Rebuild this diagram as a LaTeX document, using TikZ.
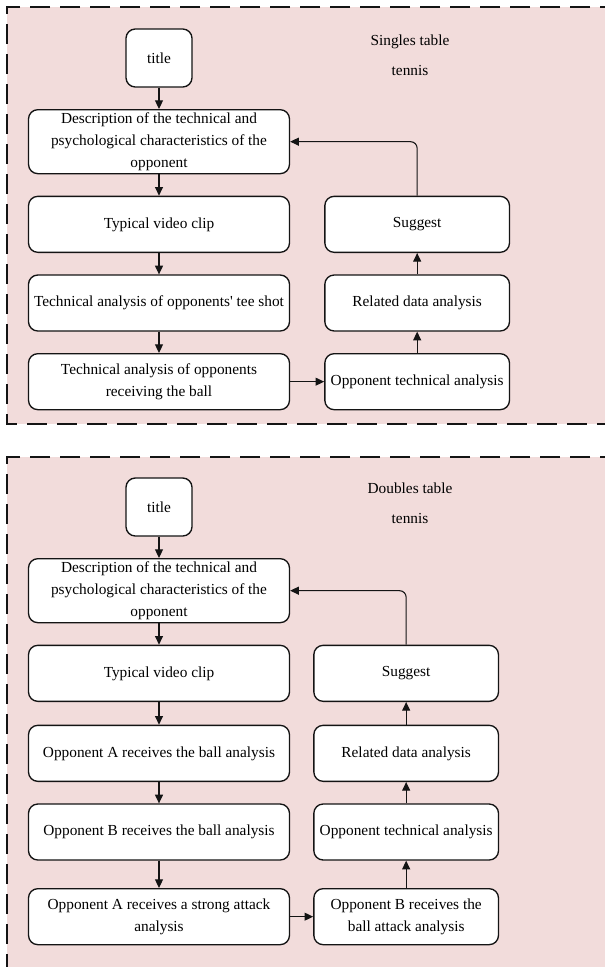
\documentclass[tikz,border=0pt]{standalone}
\usepackage{fontspec}
\setmainfont{Liberation Serif}
\usepackage{tikz}
\usetikzlibrary{arrows.meta,positioning}
\definecolor{ttedge}{RGB}{20,20,20}
\definecolor{ttpanel}{RGB}{242,220,219}
\definecolor{ttbox}{RGB}{255,255,255}
\tikzset{
  ttbox/.style={
    draw=ttedge, fill=ttbox, line width=1pt, rounded corners=7pt,
    align=center, inner xsep=2pt, inner ysep=2pt,
    font=\fontsize{11.5}{16.3}\selectfont, minimum height=42pt
  },
  lbox/.style={ttbox, minimum width=195.75pt},
  rbox/.style={ttbox, minimum width=138.5pt},
  titlebox/.style={ttbox, minimum width=49.5pt, minimum height=43.5pt},
  descbox/.style={lbox, minimum height=48pt},
  arr/.style={-{Triangle[length=6.5pt,width=6pt]}, draw=ttedge, line width=0.8pt},
  panel/.style={draw=ttedge, line width=1pt, dash pattern=on 15pt off 7.5pt},
  anno/.style={align=center, font=\fontsize{11.5}{22.5}\selectfont}
}
\begin{document}
\begin{tikzpicture}[x=0.75pt, y=-0.75pt, node distance=16pt and 25.5pt]
  \useasboundingbox (0,0) rectangle (605,967);
  \clip (0,0) rectangle (605,967);

  % panels
  \fill[ttpanel] (7,7) rectangle (620,424);
  \draw[panel] (620,7) -- (7,7) -- (7,424) -- (620,424);
  \fill[ttpanel] (7,457) rectangle (620,990);
  \draw[panel] (620,457) -- (7,457) -- (7,990);

  % singles
  \node[titlebox] (tit1) at (159,58) {title};
  \node[descbox, below=of tit1] (desc1) {Description of the technical and\\psychological characteristics of the\\opponent};
  \node[lbox, below=of desc1] (vid1) {Typical video clip};
  \node[lbox, below=of vid1] (tee1) {Technical analysis of opponents\textquotesingle{} tee shot};
  \node[lbox, below=of tee1] (recv1) {Technical analysis of opponents\\receiving the ball};
  \node[rbox, right=of vid1] (sug1) {Suggest};
  \node[rbox, right=of tee1] (rel1) {Related data analysis};
  \node[rbox, right=of recv1] (opt1) {Opponent technical analysis};
  \node[anno] (lab1) at (410,55) {Singles table\\tennis};

  \draw[arr] (tit1.south) -- (desc1.north);
  \draw[arr] (desc1.south) -- (vid1.north);
  \draw[arr] (vid1.south) -- (tee1.north);
  \draw[arr] (tee1.south) -- (recv1.north);
  \draw[arr] (recv1.east) -- (opt1.west);
  \draw[arr] (opt1.north) -- (rel1.south);
  \draw[arr] (rel1.north) -- (sug1.south);
  \draw[arr, rounded corners=5pt] (sug1.north) |- (desc1.east);

  % doubles
  \node[titlebox] (tit2) at (159,507) {title};
  \node[descbox, below=of tit2] (desc2) {Description of the technical and\\psychological characteristics of the\\opponent};
  \node[lbox, below=of desc2] (vid2) {Typical video clip};
  \node[lbox, below=17pt of vid2] (opa2) {Opponent A receives the ball analysis};
  \node[lbox, below=16pt of opa2] (opb2) {Opponent B receives the ball analysis};
  \node[lbox, below=20.5pt of opb2] (str2) {Opponent A receives a strong attack\\analysis};
  \node[rbox, right=17.25pt of vid2] (sug2) {Suggest};
  \node[rbox, right=17.25pt of opa2] (rel2) {Related data analysis};
  \node[rbox, right=17.25pt of opb2] (opt2) {Opponent technical analysis};
  \node[rbox, right=17.25pt of str2] (att2) {Opponent B receives the\\ball attack analysis};
  \node[anno] (lab2) at (410,503) {Doubles table\\tennis};

  \draw[arr] (tit2.south) -- (desc2.north);
  \draw[arr] (desc2.south) -- (vid2.north);
  \draw[arr] (vid2.south) -- (opa2.north);
  \draw[arr] (opa2.south) -- (opb2.north);
  \draw[arr] (opb2.south) -- (str2.north);
  \draw[arr] (str2.east) -- (att2.west);
  \draw[arr] (att2.north) -- (opt2.south);
  \draw[arr] (opt2.north) -- (rel2.south);
  \draw[arr] (rel2.north) -- (sug2.south);
  \draw[arr, rounded corners=5pt] (sug2.north) |- (desc2.east);
\end{tikzpicture}
\end{document}
